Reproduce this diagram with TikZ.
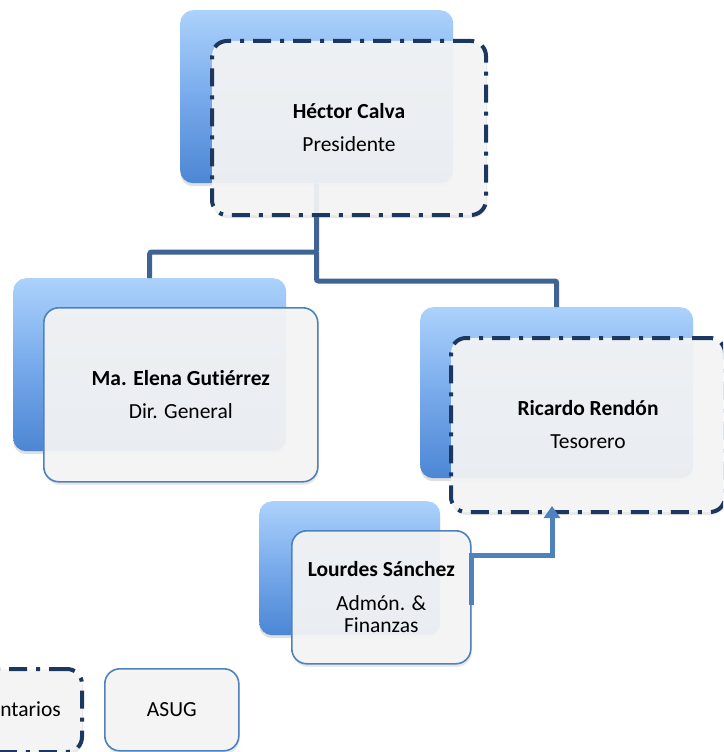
\documentclass[tikz,border=0pt]{standalone}
\usepackage{fontspec}
\setmainfont{Carlito}[Ligatures=NoCommon]
\usetikzlibrary{shadows,arrows.meta}
\definecolor{navy}{RGB}{28,55,96}
\definecolor{conncol}{RGB}{62,99,148}
\definecolor{arrcol}{RGB}{79,129,189}
\definecolor{boxborder}{RGB}{79,129,189}
\definecolor{bluetop}{RGB}{172,210,252}
\definecolor{bluemid}{RGB}{120,170,235}
\definecolor{bluebot}{RGB}{76,134,212}
\definecolor{frontfill}{RGB}{245,245,245}
\tikzset{
  backbox/.style={anchor=north west, rounded corners=13pt, top color=bluetop, bottom color=bluebot,
    middle color=bluemid, inner sep=0pt, drop shadow={shadow xshift=0pt, shadow yshift=-3pt, opacity=0.25}},
  frontbase/.style={anchor=north west, rounded corners=15pt, fill=frontfill, fill opacity=0.93,
    text opacity=1, align=center, inner sep=0pt, font=\fontsize{21.5}{22}\selectfont,
    drop shadow={shadow xshift=1pt, shadow yshift=-3pt, opacity=0.18}},
  dashfront/.style={frontbase, draw=navy, line width=4pt, dash pattern=on 18pt off 9pt on 4pt off 9pt},
  solidfront/.style={frontbase, draw=boxborder, line width=1.6pt},
  bigback/.style={backbox, minimum width=273pt, minimum height=173pt},
  bigfront/.style={minimum width=274pt, minimum height=174pt},
  conn/.style={draw=conncol, line width=5pt, rounded corners=2pt},
  arr/.style={draw=arrcol, line width=5pt, -{Triangle[width=16pt,length=12pt]}},
}
\begin{document}
\begin{tikzpicture}[x=1pt,y=-1pt]
\useasboundingbox (0,0) rectangle (723,752);
\clip (0,0) rectangle (723,752);

% back boxes
\node[bigback] (topback) at (180,10) {};
\node[bigback] (elenaback) at (13,278) {};
\node[bigback, minimum height=171pt] (ricback) at (420,307) {};
\node[backbox, minimum width=181pt, minimum height=134pt] (lourback) at (259,501) {};

% connectors (drawn behind fronts)
\coordinate (j1) at (316.5,252);
\coordinate (j2) at (316.5,281);
\draw[conn] (topback.south) -- (j1) -| (elenaback.north);
\draw[conn] (j1) -- (j2) -| (ricback.north);

% front boxes
\node[dashfront, bigfront] (topfront) at (210,39)
  {\textbf{Héctor Calva}\\[11pt]Presidente};
\node[solidfront, bigfront] (elenafront) at (43,307)
  {\textbf{Ma. Elena Gutiérrez}\\[11pt]Dir. General};
\node[dashfront, bigfront] (ricfront) at (449,336)
  {\textbf{Ricardo Rendón}\\[11pt]Tesorero};
\node[solidfront, minimum width=179pt, minimum height=133pt] (lourfront) at (291,530)
  {\textbf{Lourdes Sánchez}\\[12pt]Admón. \&\\Finanzas};

% arrow from Lourdes to Ricardo
\coordinate (la) at (471,605);
\coordinate (lb) at (471,555);
\coordinate (rt) at (552,506);
\draw[arr] (la) -- (lb) -| (rt);

% bottom boxes
\node[dashfront, minimum width=134pt, minimum height=83pt] (volbox) at (-54,667) {};
\node[anchor=base east, inner sep=0pt, font=\fontsize{21.5}{22}\selectfont] (voltext) at (61,716) {ntarios};
\node[solidfront, minimum width=134pt, minimum height=82pt] (asug) at (104,668) {ASUG};
\end{tikzpicture}
\end{document}
